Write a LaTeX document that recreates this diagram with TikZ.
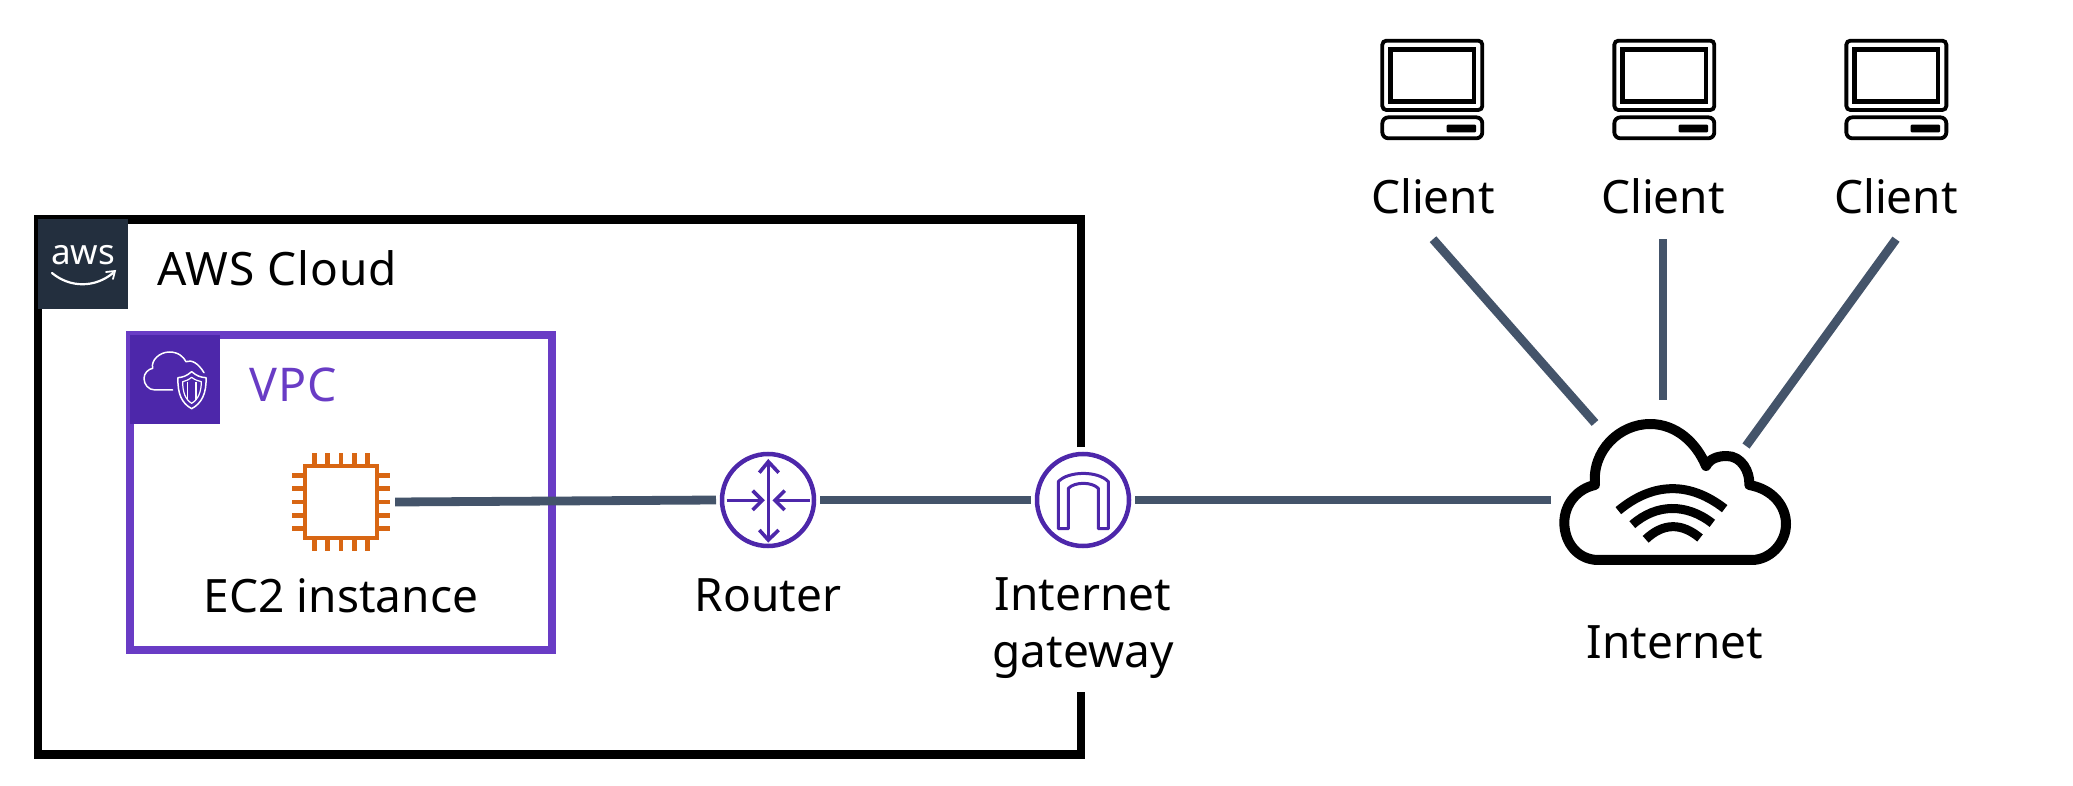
\documentclass[tikz,border=0pt]{standalone}
\usepackage{fontspec}
\usetikzlibrary{calc}
\setmainfont{Noto Sans}
\tikzset{
  x=1pt,y=-1pt,
  lbl/.style={inner sep=0pt,font=\fontsize{46}{57}\selectfont,text=black},
  link/.style={draw=linkc,line width=8.8pt},
  gsvc/.style={circle,draw=svc,line width=4.5pt,minimum size=92pt,inner sep=0pt,outer sep=6pt},
  glyph/.style={draw=svc,line width=3.6pt},
  chippin/.style={draw=chipc,line width=4.6pt},
  mono/.style={draw=black,line width=3.8pt,rounded corners=3pt},
  zoomz/.style={x=0.33333pt,y=-0.33333pt},
}
\definecolor{linkc}{HTML}{44546A}
\definecolor{svc}{HTML}{4D27AA}
\definecolor{vpcc}{HTML}{693CC5}
\definecolor{chipc}{HTML}{D86613}
\definecolor{awsc}{HTML}{232F3E}
\newcommand{\clientglyph}[1]{%
  \begin{scope}[shift={(#1,20)},zoomz]
    \draw[mono,rounded corners=4pt] (67,62) rectangle (367,270);
    \draw[draw=black,line width=4.4pt] (92,88) rectangle (342,245);
    \draw[mono,rounded corners=6pt] (67,292) rectangle (367,355);
    \fill[black,rounded corners=1pt] (260,314) rectangle (348,337);
  \end{scope}}
\begin{document}
\begin{tikzpicture}
\useasboundingbox (0,0) rectangle (2073,786);
% AWS cloud frame, broken at the gateway
\draw[black,line width=8.7pt,miter limit=10] (1081,447) -- (1081,219.3) -- (38,219.3) -- (38,754.5) -- (1081,754.5) -- (1081,692);
\fill[awsc] (38,219) rectangle (128,309);
\node[anchor=base,inner sep=0pt,text=white,font=\fontsize{35}{35}\selectfont] (awslogo) at (83,265) {aws};
\draw[white,line width=2.2pt,line cap=round] (52,273) .. controls (70,288) and (95,288) .. (113,273);
\draw[white,line width=1.8pt,line cap=round] (106,272) -- (115,271) -- (113,279);
\node[lbl,anchor=base west] (awscloud) at (157,286) {\addfontfeature{LetterSpace=2}AWS Cloud};
% VPC frame
\draw[vpcc,line width=8.5pt] (130,335) rectangle (552,650);
\fill[svc] (130,335) rectangle (220,424);
\begin{scope}[shift={(20,200)},zoomz]
  \draw[white,line width=1.5pt,line join=round,line cap=round] (458,570) -- (405,570) .. controls (385,570) and (372,553) .. (372,535) .. controls (372,520) and (385,507) .. (398,505) .. controls (392,480) and (420,456) .. (448,456) .. controls (475,456) and (490,470) .. (498,485) .. controls (515,478) and (535,490) .. (552,518);
  \draw[white,line width=1.5pt,line join=round] (515,515) .. controls (500,528) and (488,532) .. (474,533) .. controls (472,580) and (485,610) .. (515,626) .. controls (545,610) and (560,580) .. (558,533) .. controls (542,532) and (530,528) .. (515,515) -- cycle;
  \draw[white,line width=1.2pt,line join=round] (515,532) .. controls (505,540) and (497,543) .. (488,545) .. controls (488,575) and (495,598) .. (515,610) .. controls (535,598) and (544,575) .. (544,545) .. controls (535,543) and (525,540) .. (515,532) -- cycle;
  \draw[white,line width=1.2pt] (503,545) -- (503,600) (528,545) -- (528,600);
\end{scope}
\node[anchor=base west,inner sep=0pt,text=vpcc,font=\fontsize{46.5}{57}\selectfont] (vpc) at (249,401) {\addfontfeature{LetterSpace=3}VPC};
% EC2 chip
\node[minimum size=108pt,inner sep=0pt] (ec2) at (341,502) {};
\draw[chippin] (305,466) rectangle (377,538);
\foreach \d in {-26.6,-13.3,0,13.3,26.6}{
  \draw[chippin] ($(ec2.center)+(\d,-36)$) -- ($(ec2.center)+(\d,-49)$);
  \draw[chippin] ($(ec2.center)+(\d,36)$) -- ($(ec2.center)+(\d,49)$);
  \draw[chippin] ($(ec2.center)+(-36,\d)$) -- ($(ec2.center)+(-49,\d)$);
  \draw[chippin] ($(ec2.center)+(36,\d)$) -- ($(ec2.center)+(49,\d)$);
}
\node[lbl,anchor=base] (ec2lbl) at (341,612) {EC2 instance};
% Router
\node[gsvc] (router) at (768,500) {};
\begin{scope}[shift={(680,420)},zoomz]
  \draw[glyph] (265,125) -- (265,360);
  \draw[glyph,line join=miter] (238,158) -- (265,125) -- (296,158);
  \draw[glyph] (238,330) -- (265,360) -- (296,330);
  \draw[glyph] (140,241) -- (245,241);
  \draw[glyph] (218,212) -- (247,241) -- (218,270);
  \draw[glyph] (390,241) -- (285,241);
  \draw[glyph] (314,212) -- (285,241) -- (314,270);
\end{scope}
\node[lbl,anchor=base] (routerlbl) at (768,611) {Router};
% Internet gateway
\node[gsvc] (igw) at (1083,500) {};
\begin{scope}[shift={(680,420)},zoomz]
  \draw[draw=svc,line width=3pt,line join=round] (1135,326) -- (1135,185) .. controls (1165,152) and (1255,152) .. (1285,185) -- (1285,326) -- (1255,326) -- (1255,205) .. controls (1235,185) and (1185,185) .. (1165,205) -- (1165,326) -- cycle;
\end{scope}
\node[lbl,align=center,anchor=south] (igwlbl) at (1083,679) {Internet\\gateway};
% Internet cloud
\node[minimum width=248pt,minimum height=146pt,inner sep=0pt] (inet) at (1675,500) {};
\coordinate (inetA) at (1595,423);
\coordinate (inetB) at (1663,400);
\coordinate (inetC) at (1746,446);
\begin{scope}[shift={(1520,400)},zoomz]
  \draw[black,line width=10pt,line join=round] (225,255) .. controls (215,150) and (300,72) .. (390,72) .. controls (470,72) and (530,130) .. (558,198) .. controls (570,175) and (595,168) .. (620,168) .. controls (665,168) and (690,215) .. (688,255) .. controls (760,268) and (798,320) .. (798,372) .. controls (798,430) and (750,480) .. (695,480) -- (235,480) .. controls (175,480) and (133,430) .. (133,368) .. controls (133,310) and (175,265) .. (225,255) -- cycle;
  \draw[black,line width=9pt] (295,332) .. controls (400,245) and (510,245) .. (614,326);
  \draw[black,line width=9pt] (337,374) .. controls (410,310) and (500,310) .. (577,370);
  \draw[black,line width=9pt] (377,418) .. controls (430,368) and (485,368) .. (540,414);
\end{scope}
\node[lbl,anchor=base] (inetlbl) at (1675,658) {Internet};
% Clients
\clientglyph{1360}
\clientglyph{1592}
\clientglyph{1824}
\tikzset{clientlbl/.style={lbl,anchor=base,text depth=25pt}}
\node[clientlbl] (client1) at (1433,214) {Client};
\node[clientlbl] (client2) at (1663,214) {Client};
\node[clientlbl] (client3) at (1896,214) {Client};
% Connectors
\draw[link] (ec2.east) -- (router.west);
\draw[link] (router.east) -- (igw.west);
\draw[link] (igw.east) -- (inet.west);
\draw[link] (client1.south) -- (inetA);
\draw[link] (client2.south) -- (inetB);
\draw[link] (client3.south) -- (inetC);
\end{tikzpicture}
\end{document}
